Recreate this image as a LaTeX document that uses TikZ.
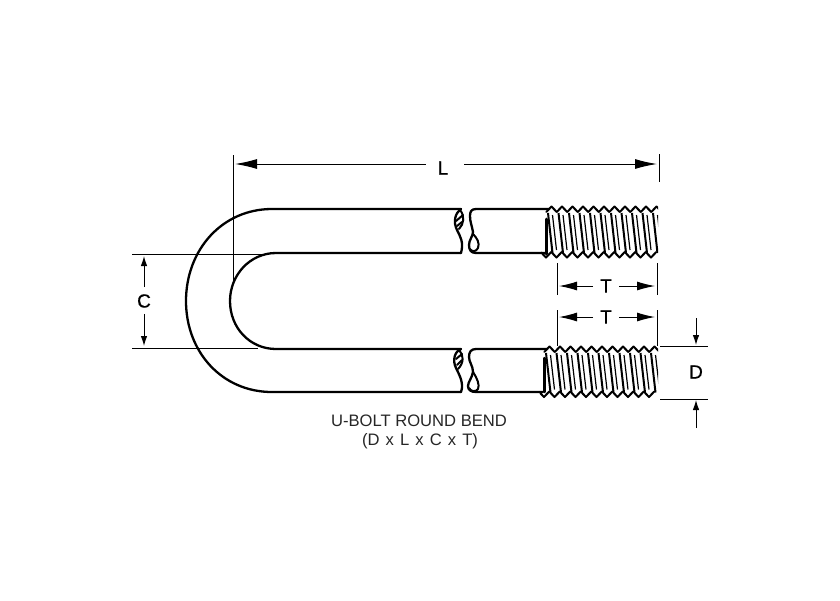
\documentclass[tikz,border=0pt]{standalone}
\usepackage{fontspec}
\setmainfont{Liberation Sans}
\usetikzlibrary{arrows.meta}
\tikzset{
  x=1pt,y=-1pt,
  outline/.style={draw=black,line width=2.3pt,line join=round,line cap=round},
  extline/.style={draw=black,line width=1.0pt},
  dimline/.style={draw=black,line width=1.0pt},
  dimarrow/.style={dimline,-{Latex[length=22pt,width=10pt]}},
  midarrow/.style={dimline,-{Latex[length=18pt,width=9pt]}},
  smallarrow/.style={dimline,-{Latex[length=10pt,width=6.5pt]}},
  threadline/.style={draw=black,line width=2pt},
  threadedge/.style={draw=black,line width=2pt,line join=round,line cap=round},
  hatch/.style={draw=black,line width=2.0pt,line cap=round},
  dimlabel/.style={font=\fontsize{19}{19}\selectfont\addfontfeature{FakeBold=0.6},inner sep=0pt,text=black},
  tlabel/.style={font=\fontsize{19}{19}\selectfont\addfontfeature{FakeBold=0.4},inner sep=0pt,text=black},
  caption/.style={font=\fontsize{16.6}{19}\selectfont,inner sep=0pt,text=black!85}
}
% #1 first top crest x, #2 top crest y, #3 bottom crest y
\newcommand{\ubthread}[3]{%
  \pgfmathsetmacro{\ubtr}{#2+5.5}
  \pgfmathsetmacro{\ubbr}{#3-5.5}
  \begin{scope}
  \clip (#1-10,#2-4) rectangle (658,#3+4);
  \foreach \i in {0,...,10}{
    \pgfmathsetmacro{\xt}{#1+\i*10.5}
    \pgfmathsetmacro{\xbc}{\xt-5.5}
    \draw[threadline] (\xt-3.5,\ubtr+1) -- (\xt+1,\ubbr+1);
    \draw[threadline,line width=1.2pt] (\xt+1,\ubtr+3) -- (\xt+5,\ubbr-2);
    \draw[threadedge] (\xt-5.25,\ubtr) -- (\xt,#2) -- (\xt+5.25,\ubtr);
    \draw[threadedge] (\xbc-5.25,\ubbr) -- (\xbc,#3) -- (\xbc+5.25,\ubbr);
  }
  \end{scope}
}
\begin{document}
\begin{tikzpicture}
\useasboundingbox (0,0) rectangle (840,600);
\fill[white] (0,0) rectangle (840,600);

% U body
\draw[outline] (461,209) -- (272,209)
  .. controls (222,209) and (186,250) .. (186,301)
  .. controls (186,352) and (222,392) .. (272,392) -- (461,392);
\draw[outline] (461,253) -- (276,253)
  .. controls (250,253) and (230,275) .. (230,301)
  .. controls (230,328) and (250,349) .. (276,349) -- (461,349);

% upper shaft
\draw[outline] (549,209) -- (476,209) .. controls (471,209) and (470,212) .. (470,216)
  .. controls (470,222) and (472,226) .. (473,232)
  .. controls (473,236) and (469,240) .. (469,245)
  .. controls (469,250) and (471,253) .. (476,253) -- (547,253);
\draw[hatch] (473,234) .. controls (477,238) and (480,243) .. (478,248) .. controls (476,252) and (472,252) .. (470,249);
\draw[outline] (461,209) .. controls (455,213) and (453,222) .. (457,230)
  .. controls (460,236) and (464,242) .. (461,253);
\draw[hatch] (460,210) .. controls (465,216) and (464,224) .. (459,229);
\draw[hatch] (456,221) -- (463,215);
\draw[hatch] (457,226) -- (462,222);

% lower shaft
\draw[outline] (547,349) -- (476,349) .. controls (471,349) and (469,352) .. (469,357)
  .. controls (469,362) and (473,366) .. (473,372)
  .. controls (472,378) and (468,382) .. (468,386)
  .. controls (468,390) and (471,392) .. (476,392) -- (543,392);
\draw[hatch] (473,372) .. controls (477,378) and (480,385) .. (478,389) .. controls (476,392) and (471,392) .. (469,388);
\draw[outline] (461,349) .. controls (455,351) and (452,360) .. (456,368)
  .. controls (460,376) and (464,384) .. (461,392);
\draw[hatch] (459,350) .. controls (464,355) and (464,363) .. (458,369);
\draw[hatch] (456,359) -- (462,354);
\draw[hatch] (457,365) -- (462,360);

% threads
\ubthread{551.5}{206.5}{257.5}
\draw[threadedge,line width=3pt] (546.5,219) -- (546.5,254);
\ubthread{549.5}{346.5}{397}
\draw[threadedge,line width=2.4pt] (544.5,358) -- (544.5,392);

% dimension L
\coordinate (LA) at (235,164);
\coordinate (LB) at (657,164);
\node[dimlabel] (Ltext) at (443,168) {L};
\draw[extline] (233,155) -- (233,283);
\draw[extline] (659,154) -- (659,182);
\draw[dimarrow] (Ltext.west) ++(-12,-4) -- (LA);
\draw[dimarrow] (Ltext.east) ++(16,-4) -- (LB);

% dimension C
\coordinate (CA) at (144,256);
\coordinate (CB) at (144,346);
\node[dimlabel] (Ctext) at (144,301) {C};
\draw[extline] (132,254) -- (264,254);
\draw[extline] (132,348) -- (258,348);
\draw[smallarrow] (Ctext.north) ++(0,-7) -- (CA);
\draw[smallarrow] (Ctext.south) ++(0,6) -- (CB);

% dimension T upper
\coordinate (TaL) at (559,286);
\coordinate (TaR) at (655,286);
\node[tlabel] (Tatext) at (606,286) {T};
\draw[extline] (557,263) -- (557,295);
\draw[extline] (657,263) -- (657,295);
\draw[midarrow] (Tatext.west) ++(-7,0) -- (TaL);
\draw[midarrow] (Tatext.east) ++(7,0) -- (TaR);

% dimension T lower
\coordinate (TbL) at (559,317);
\coordinate (TbR) at (655,317);
\node[tlabel] (Tbtext) at (606,317) {T};
\draw[extline] (557,310) -- (557,346);
\draw[extline] (657,310) -- (657,346);
\draw[midarrow] (Tbtext.west) ++(-7,0) -- (TbL);
\draw[midarrow] (Tbtext.east) ++(7,0) -- (TbR);

% dimension D
\coordinate (DA) at (696,345);
\coordinate (DB) at (696,400);
\coordinate (DAs) at (696,318);
\coordinate (DBs) at (696,428);
\node[dimlabel] (Dtext) at (696,372) {D};
\draw[extline] (660,346) -- (708,346);
\draw[extline] (660,399) -- (708,399);
\draw[smallarrow] (DAs) -- (DA);
\draw[smallarrow] (DBs) -- (DB);

% caption
\node[caption] (cap1) at (419,421) {U-BOLT ROUND BEND};
\node[caption] (cap2) at (420,441) {\spaceskip=6.1pt\relax (D x L x C x T)};
\end{tikzpicture}
\end{document}
